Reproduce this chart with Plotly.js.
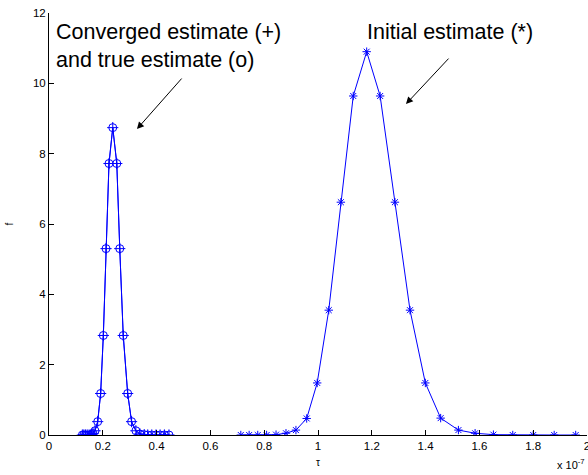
<!DOCTYPE html>
<html>
<head>
<meta charset="utf-8">
<script src="https://cdn.plot.ly/plotly-3.0.1.min.js"></script>
<style>html,body{margin:0;padding:0;background:#fff;}#chart{width:588px;height:475px;}</style>
</head>
<body>
<div id="chart"></div>
<script>
// tau values in units of 1e-7 s
const tauInit = [0.713, 0.744, 0.776, 0.809, 0.844, 0.881, 0.918, 0.958, 0.997, 1.040, 1.085, 1.131, 1.181, 1.231, 1.286, 1.342, 1.399, 1.456, 1.522, 1.584, 1.652, 1.724, 1.800, 1.878, 1.958];
const fInit = [0, 0, 0, 0, 0.01, 0.05, 0.14, 0.47, 1.48, 3.55, 6.62, 9.64, 10.9, 9.64, 6.62, 3.55, 1.48, 0.48, 0.14, 0.05, 0.01, 0, 0, 0, 0];

const tauConv = [0.124, 0.1295, 0.1355, 0.142, 0.149, 0.156, 0.1635, 0.171, 0.181, 0.192, 0.202, 0.212, 0.223, 0.237, 0.252, 0.263, 0.276, 0.2925, 0.307, 0.323, 0.338, 0.354, 0.367, 0.382, 0.398, 0.413, 0.429, 0.446];
const fConv = [0, 0, 0, 0, 0, 0.01, 0.04, 0.12, 0.38, 1.18, 2.83, 5.30, 7.72, 8.74, 7.72, 5.30, 2.83, 1.18, 0.38, 0.12, 0.03, 0.01, 0, 0, 0, 0, 0, 0];
const fTrue = [0, 0, 0, 0, 0, 0.01, 0.04, 0.12, 0.38, 1.18, 2.83, 5.30, 7.72, 8.74, 7.72, 5.30, 2.83, 1.18, 0.38, 0.12, 0.03, 0.01, 0, 0, 0, 0, 0, 0];

const xTicks = [0, 0.2, 0.4, 0.6, 0.8, 1, 1.2, 1.4, 1.6, 1.8, 2];
const xTickText = ['0', '0.2', '0.4', '0.6', '0.8', '1', '1.2', '1.4', '1.6', '1.8', '2'];
const yTicks = [0, 2, 4, 6, 8, 10, 12];

const blue = '#0000ff';
const font = 'Arial, "Liberation Sans", Helvetica, sans-serif';

const traces = [
  {x: tauInit, y: fInit, type: 'scatter', mode: 'lines+markers', name: 'Initial estimate',
   line: {color: blue, width: 1}, marker: {symbol: 'asterisk-open', size: 7, color: blue, line: {color: blue, width: 1}}},
  {x: tauConv, y: fTrue, type: 'scatter', mode: 'lines+markers', name: 'True estimate',
   line: {color: blue, width: 1}, marker: {symbol: 'circle-open', size: 8, color: blue, line: {color: blue, width: 1}}},
  {x: tauConv, y: fConv, type: 'scatter', mode: 'lines+markers', name: 'Converged estimate',
   line: {color: blue, width: 1}, marker: {symbol: 'cross-thin-open', size: 8, color: blue, line: {color: blue, width: 1}}}
];

const layout = {
  width: 588, height: 475,
  margin: {l: 49, r: 1, t: 13, b: 40},
  paper_bgcolor: '#fff', plot_bgcolor: '#fff',
  showlegend: false,
  font: {family: font, size: 11, color: '#000'},
  xaxis: {
    range: [0, 2], tickvals: xTicks, ticktext: xTickText, ticklabeloverflow: 'allow',
    showgrid: false, zeroline: false, showline: true, linecolor: '#000', linewidth: 1,
    ticks: 'inside', ticklen: 5, tickcolor: '#000',
    tickfont: {family: font, size: 11.5, color: '#000'},
    title: {text: 'τ', font: {family: font, size: 10, color: '#000'}, standoff: 8}
  },
  yaxis: {
    range: [0, 12], tickvals: yTicks, ticklabeloverflow: 'allow',
    showgrid: false, zeroline: false, showline: true, linecolor: '#000', linewidth: 1,
    ticks: 'inside', ticklen: 5, tickcolor: '#000',
    tickfont: {family: font, size: 11.5, color: '#000'},
    title: {text: 'f', font: {family: font, size: 10, color: '#000'}, standoff: 17}
  },
  annotations: [
    {xref: 'x', yref: 'y', x: 0.02, y: 11.85, xanchor: 'left', yanchor: 'top', align: 'left',
     text: 'Converged estimate (+)<br>and true estimate (o)', showarrow: false,
     font: {family: font, size: 21.5, color: '#000'}},
    {xref: 'x', yref: 'y', x: 1.175, y: 11.85, xanchor: 'left', yanchor: 'top', align: 'left',
     text: 'Initial estimate (*)', showarrow: false,
     font: {family: font, size: 21.5, color: '#000'}},
    {xref: 'x', yref: 'y', x: 0.327, y: 8.70, ax: 46, ay: -52, text: '', showarrow: true,
     arrowhead: 2, arrowsize: 1.4, arrowwidth: 1, arrowcolor: '#000'},
    {xref: 'x', yref: 'y', x: 1.327, y: 9.41, ax: 44, ay: -47, text: '', showarrow: true,
     arrowhead: 2, arrowsize: 1.4, arrowwidth: 1, arrowcolor: '#000'},
    {xref: 'paper', yref: 'paper', x: 1, y: 0, xanchor: 'right', yanchor: 'top', yshift: -20,
     text: 'x 10<sup>-7</sup>', showarrow: false, font: {family: font, size: 11, color: '#000'}}
  ]
};

Plotly.newPlot('chart', traces, layout, {displayModeBar: false, staticPlot: true});
</script>
</body>
</html>
